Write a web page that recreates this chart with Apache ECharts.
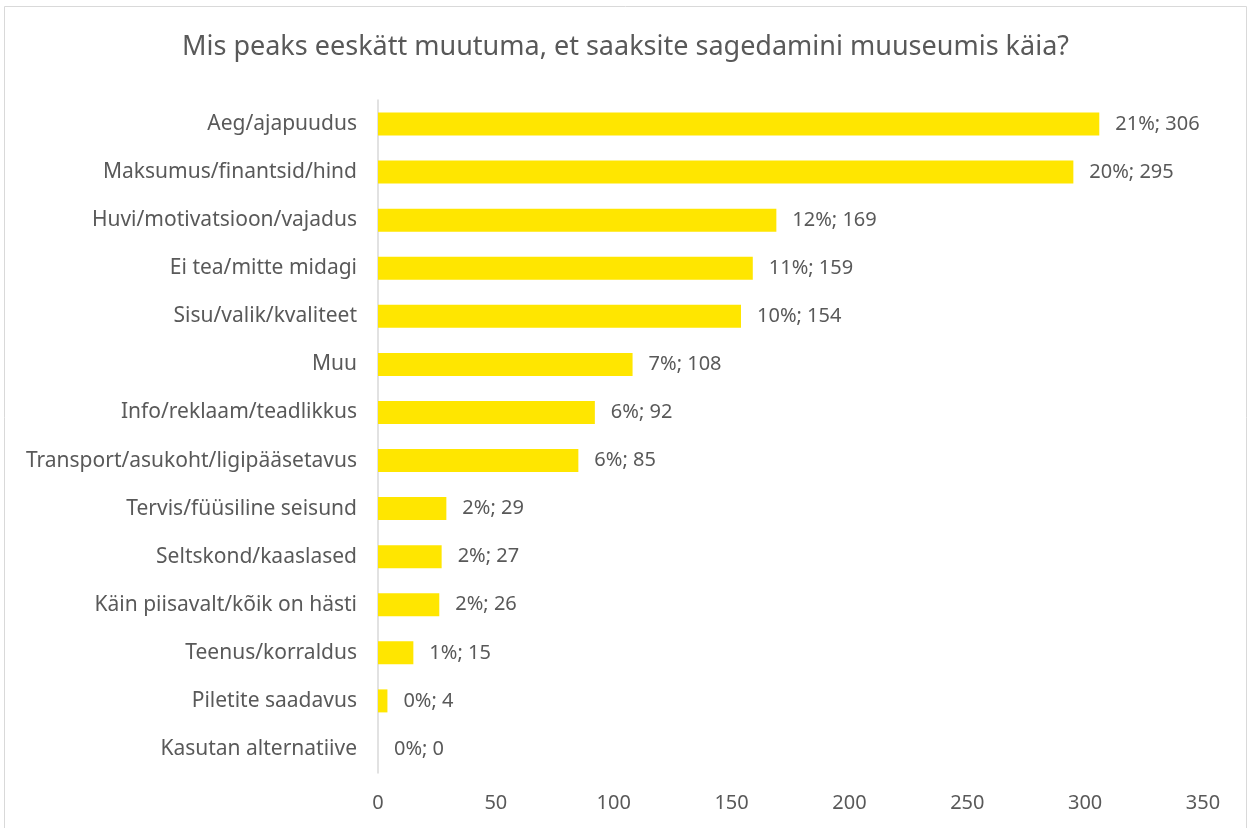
<!DOCTYPE html>
<html>
<head>
<meta charset="utf-8">
<script src="https://cdn.jsdelivr.net/npm/echarts@6/dist/echarts.min.js"></script>
<style>
  html, body { margin: 0; padding: 0; background: #fff; }
  #chart { width: 1251px; height: 828px; }
</style>
</head>
<body>
<div id="chart"></div>
<script>
const categories = [
  'Aeg/ajapuudus',
  'Maksumus/finantsid/hind',
  'Huvi/motivatsioon/vajadus',
  'Ei tea/mitte midagi',
  'Sisu/valik/kvaliteet',
  'Muu',
  'Info/reklaam/teadlikkus',
  'Transport/asukoht/ligipääsetavus',
  'Tervis/füüsiline seisund',
  'Seltskond/kaaslased',
  'Käin piisavalt/kõik on hästi',
  'Teenus/korraldus',
  'Piletite saadavus',
  'Kasutan alternatiive'
]
const counts = [306, 295, 169, 159, 154, 108, 92, 85, 29, 27, 26, 15, 4, 0]
const percents = [21, 20, 12, 11, 10, 7, 6, 6, 2, 2, 2, 1, 0, 0]

const textColor = '#595959'
const font = '"Noto Sans", "Open Sans", sans-serif'

const chart = echarts.init(document.getElementById('chart'))

const option = {
  animation: false,
  textStyle: { fontFamily: font },
  title: {
    text: 'Mis peaks eeskätt muutuma, et saaksite sagedamini muuseumis käia?',
    left: 'center',
    top: 29,
    textStyle: { color: textColor, fontSize: 27, fontWeight: 'normal', fontFamily: font }
  },
  graphic: [{
    type: 'rect',
    shape: { x: 4.5, y: 6.5, width: 1242, height: 840 },
    style: { fill: 'none', stroke: '#d9d9d9', lineWidth: 1 },
    silent: true
  }],
  grid: { left: 378, right: 48, top: 100, bottom: 55 },
  xAxis: {
    type: 'value',
    min: 0,
    max: 350,
    interval: 50,
    axisLine: { show: false },
    axisTick: { show: false },
    splitLine: { show: false },
    axisLabel: { color: textColor, fontSize: 20, margin: 20 }
  },
  yAxis: {
    type: 'category',
    data: categories,
    inverse: true,
    axisLine: { show: true, lineStyle: { color: '#d9d9d9', width: 1.5 } },
    axisTick: { show: false },
    axisLabel: { color: textColor, fontSize: 21, margin: 21 }
  },
  series: [{
    type: 'bar',
    data: counts,
    barWidth: 23,
    itemStyle: { color: '#FFE600' },
    label: {
      show: true,
      position: 'right',
      distance: 16,
      color: textColor,
      fontSize: 20,
      formatter: p => percents[p.dataIndex] + '%; ' + p.value
    }
  }]
}

chart.setOption(option)
</script>
</body>
</html>
